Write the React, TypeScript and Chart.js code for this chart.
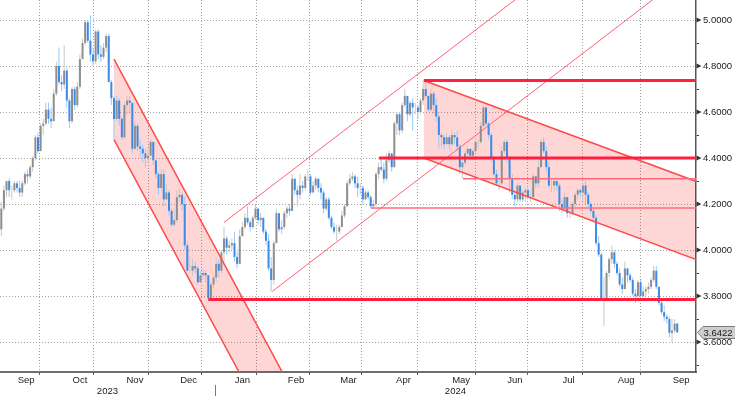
import { useEffect, useRef } from 'react';
import { Chart, registerables } from 'chart.js';

Chart.register(...registerables);

// ---------- axis categories ----------
const monthLabels = ['Sep', 'Oct', 'Nov', 'Dec', 'Jan', 'Feb', 'Mar', 'Apr', 'May', 'Jun', 'Jul', 'Aug', 'Sep'];
const monthTradingDays = [20, 21, 21, 20, 21, 20, 20, 22, 22, 19, 22, 22, 20];
const yearLabels = ['2023', '2024'];
const yearFirstMonth = [0, 4];
const yTickValues = [3.5, 3.6, 3.7, 3.8, 3.9, 4.0, 4.1, 4.2, 4.3, 4.4, 4.5, 4.6, 4.7, 4.8, 4.9, 5.0];
const X_MIN = -0.5;
const X_MAX = 265.15;
const Y_MIN = 3.4696;
const Y_MAX = 5.087;

// ---------- daily bars (one line per month) ----------
const opens = [
  4.09, 4.18, 4.26, 4.30, 4.26, 4.26, 4.29, 4.27, 4.25, 4.29, 4.33, 4.32, 4.36, 4.40, 4.49, 4.43, 4.54, 4.55, 4.61, 4.57,
  4.56, 4.68, 4.80, 4.73, 4.72, 4.78, 4.65, 4.56, 4.70, 4.63, 4.71, 4.83, 4.90, 4.99, 4.91, 4.85, 4.82, 4.95, 4.85, 4.84, 4.88,
  4.93, 4.73, 4.66, 4.57, 4.65, 4.57, 4.49, 4.63, 4.65, 4.64, 4.44, 4.54, 4.45, 4.44, 4.42, 4.40, 4.41, 4.47, 4.39, 4.33, 4.27,
  4.33, 4.22, 4.25, 4.17, 4.11, 4.13, 4.23, 4.24, 4.20, 4.02, 3.91, 3.91, 3.93, 3.92, 3.86, 3.89, 3.90, 3.89, 3.79, 3.85,
  3.88, 3.94, 3.91, 3.99, 4.05, 4.01, 4.02, 4.03, 3.97, 3.94, 4.06, 4.10, 4.14, 4.12, 4.10, 4.14, 4.18, 4.13, 4.14, 4.08, 4.04,
  3.92, 3.87, 4.03, 4.16, 4.09, 4.10, 4.16, 4.18, 4.17, 4.31, 4.26, 4.24, 4.28, 4.27, 4.32, 4.32, 4.25, 4.28, 4.31, 4.27,
  4.25, 4.18, 4.22, 4.14, 4.10, 4.08, 4.08, 4.10, 4.15, 4.19, 4.29, 4.31, 4.32, 4.29, 4.27, 4.27, 4.22, 4.25, 4.23, 4.19,
  4.20, 4.33, 4.36, 4.35, 4.31, 4.39, 4.42, 4.36, 4.55, 4.59, 4.52, 4.63, 4.67, 4.59, 4.64, 4.62, 4.62, 4.60, 4.65, 4.70, 4.67, 4.61,
  4.68, 4.63, 4.58, 4.50, 4.49, 4.46, 4.49, 4.46, 4.50, 4.49, 4.45, 4.36, 4.38, 4.42, 4.44, 4.41, 4.43, 4.47, 4.47, 4.54, 4.62, 4.55,
  4.50, 4.40, 4.33, 4.29, 4.29, 4.43, 4.47, 4.40, 4.31, 4.24, 4.22, 4.28, 4.22, 4.25, 4.26, 4.23, 4.23, 4.32, 4.29,
  4.36, 4.47, 4.43, 4.36, 4.28, 4.28, 4.30, 4.28, 4.20, 4.18, 4.23, 4.16, 4.16, 4.20, 4.24, 4.26, 4.25, 4.28, 4.24, 4.20, 4.17, 4.14,
  4.03, 3.98, 3.78, 3.79, 3.90, 3.96, 3.99, 3.94, 3.90, 3.85, 3.83, 3.92, 3.89, 3.87, 3.81, 3.80, 3.86, 3.80, 3.82, 3.83, 3.84, 3.87,
  3.91, 3.84, 3.77, 3.73, 3.71, 3.70, 3.64, 3.65, 3.68,
];
const highs = [
  4.21, 4.28, 4.30, 4.31, 4.28, 4.30, 4.30, 4.30, 4.30, 4.34, 4.35, 4.37, 4.41, 4.50, 4.51, 4.55, 4.57, 4.64, 4.64, 4.62,
  4.70, 4.82, 4.88, 4.76, 4.89, 4.79, 4.66, 4.71, 4.71, 4.73, 4.85, 4.92, 5.00, 5.00, 5.02, 4.88, 4.96, 4.96, 4.89, 4.90, 4.94,
  4.94, 4.74, 4.67, 4.67, 4.66, 4.58, 4.64, 4.67, 4.67, 4.64, 4.56, 4.55, 4.48, 4.46, 4.44, 4.44, 4.48, 4.47, 4.39, 4.34, 4.35,
  4.35, 4.29, 4.26, 4.18, 4.18, 4.26, 4.27, 4.25, 4.23, 4.04, 3.97, 3.96, 3.95, 3.93, 3.91, 3.92, 3.91, 3.89, 3.86, 3.89,
  3.97, 3.96, 4.00, 4.10, 4.06, 4.04, 4.05, 4.08, 3.99, 4.09, 4.12, 4.16, 4.19, 4.13, 4.15, 4.20, 4.18, 4.16, 4.14, 4.09, 4.07,
  3.97, 4.04, 4.18, 4.16, 4.13, 4.17, 4.19, 4.20, 4.33, 4.31, 4.28, 4.33, 4.30, 4.33, 4.35, 4.33, 4.30, 4.32, 4.31, 4.29,
  4.26, 4.23, 4.23, 4.15, 4.12, 4.11, 4.11, 4.17, 4.20, 4.30, 4.33, 4.34, 4.33, 4.32, 4.29, 4.28, 4.26, 4.26, 4.24, 4.22,
  4.34, 4.38, 4.40, 4.38, 4.42, 4.43, 4.42, 4.56, 4.60, 4.60, 4.64, 4.70, 4.67, 4.65, 4.66, 4.64, 4.63, 4.66, 4.74, 4.73, 4.67, 4.70,
  4.69, 4.66, 4.59, 4.51, 4.50, 4.51, 4.50, 4.52, 4.51, 4.52, 4.46, 4.40, 4.43, 4.45, 4.44, 4.44, 4.49, 4.48, 4.56, 4.63, 4.62, 4.56,
  4.51, 4.41, 4.35, 4.31, 4.45, 4.48, 4.48, 4.41, 4.33, 4.26, 4.29, 4.28, 4.26, 4.27, 4.27, 4.26, 4.33, 4.32, 4.40,
  4.48, 4.49, 4.45, 4.38, 4.31, 4.31, 4.31, 4.29, 4.22, 4.25, 4.23, 4.19, 4.21, 4.25, 4.27, 4.27, 4.29, 4.30, 4.25, 4.21, 4.18, 4.15,
  4.06, 3.99, 3.88, 3.91, 3.97, 4.02, 4.00, 3.95, 3.92, 3.88, 3.95, 3.92, 3.90, 3.88, 3.83, 3.87, 3.87, 3.84, 3.84, 3.86, 3.88, 3.93,
  3.93, 3.84, 3.78, 3.76, 3.72, 3.71, 3.70, 3.70, 3.68,
];
const lows = [
  4.06, 4.17, 4.23, 4.23, 4.22, 4.25, 4.25, 4.23, 4.23, 4.28, 4.29, 4.31, 4.34, 4.39, 4.42, 4.43, 4.50, 4.54, 4.55, 4.53,
  4.56, 4.67, 4.72, 4.69, 4.70, 4.62, 4.53, 4.55, 4.61, 4.62, 4.70, 4.83, 4.89, 4.90, 4.82, 4.80, 4.81, 4.83, 4.82, 4.83, 4.86,
  4.73, 4.63, 4.48, 4.56, 4.54, 4.48, 4.48, 4.59, 4.60, 4.42, 4.44, 4.43, 4.40, 4.38, 4.36, 4.38, 4.41, 4.37, 4.31, 4.24, 4.26,
  4.19, 4.22, 4.15, 4.10, 4.10, 4.12, 4.21, 4.17, 4.00, 3.91, 3.90, 3.89, 3.90, 3.85, 3.86, 3.87, 3.86, 3.78, 3.79, 3.83,
  3.86, 3.88, 3.90, 3.95, 3.98, 3.99, 4.00, 3.95, 3.92, 3.94, 4.06, 4.09, 4.11, 4.08, 4.09, 4.13, 4.11, 4.10, 4.07, 4.02, 3.91,
  3.82, 3.85, 4.03, 4.08, 4.07, 4.09, 4.14, 4.15, 4.17, 4.24, 4.19, 4.22, 4.25, 4.26, 4.30, 4.24, 4.25, 4.26, 4.25, 4.22,
  4.16, 4.17, 4.13, 4.09, 4.07, 4.04, 4.07, 4.10, 4.14, 4.19, 4.28, 4.30, 4.27, 4.23, 4.24, 4.20, 4.22, 4.22, 4.18, 4.18,
  4.19, 4.31, 4.34, 4.29, 4.30, 4.38, 4.34, 4.36, 4.50, 4.50, 4.51, 4.62, 4.56, 4.58, 4.52, 4.59, 4.57, 4.59, 4.63, 4.66, 4.60, 4.60,
  4.59, 4.56, 4.44, 4.45, 4.44, 4.46, 4.44, 4.45, 4.46, 4.43, 4.33, 4.31, 4.37, 4.41, 4.39, 4.39, 4.42, 4.44, 4.46, 4.53, 4.54, 4.48,
  4.38, 4.32, 4.28, 4.26, 4.28, 4.42, 4.38, 4.25, 4.22, 4.19, 4.21, 4.21, 4.21, 4.21, 4.22, 4.21, 4.23, 4.27, 4.27,
  4.36, 4.42, 4.34, 4.27, 4.25, 4.26, 4.26, 4.17, 4.16, 4.17, 4.14, 4.14, 4.15, 4.19, 4.22, 4.23, 4.23, 4.20, 4.18, 4.16, 4.12, 4.02,
  3.97, 3.79, 3.67, 3.78, 3.88, 3.94, 3.92, 3.89, 3.84, 3.81, 3.83, 3.86, 3.86, 3.80, 3.77, 3.79, 3.79, 3.79, 3.80, 3.81, 3.83, 3.86,
  3.83, 3.76, 3.72, 3.69, 3.68, 3.62, 3.60, 3.64, 3.64,
];
const closes = [
  4.18, 4.26, 4.30, 4.26, 4.26, 4.29, 4.27, 4.25, 4.29, 4.33, 4.32, 4.36, 4.40, 4.49, 4.43, 4.54, 4.55, 4.61, 4.57, 4.56,
  4.68, 4.80, 4.73, 4.72, 4.78, 4.65, 4.56, 4.70, 4.63, 4.71, 4.83, 4.90, 4.99, 4.91, 4.85, 4.82, 4.95, 4.85, 4.84, 4.88, 4.93,
  4.73, 4.66, 4.57, 4.65, 4.57, 4.49, 4.63, 4.65, 4.64, 4.44, 4.54, 4.45, 4.44, 4.42, 4.40, 4.41, 4.47, 4.39, 4.33, 4.27, 4.33,
  4.22, 4.25, 4.17, 4.11, 4.13, 4.23, 4.24, 4.20, 4.02, 3.91, 3.91, 3.93, 3.92, 3.86, 3.89, 3.90, 3.89, 3.79, 3.85, 3.88,
  3.94, 3.91, 3.99, 4.05, 4.01, 4.02, 4.03, 3.97, 3.94, 4.06, 4.10, 4.14, 4.12, 4.10, 4.14, 4.18, 4.13, 4.14, 4.08, 4.04, 3.92,
  3.87, 4.03, 4.16, 4.09, 4.10, 4.16, 4.18, 4.17, 4.31, 4.26, 4.24, 4.28, 4.27, 4.32, 4.32, 4.25, 4.28, 4.31, 4.27, 4.25,
  4.18, 4.22, 4.14, 4.10, 4.08, 4.08, 4.10, 4.15, 4.19, 4.29, 4.31, 4.32, 4.29, 4.27, 4.27, 4.22, 4.25, 4.23, 4.19, 4.20,
  4.33, 4.36, 4.35, 4.31, 4.39, 4.42, 4.36, 4.55, 4.59, 4.52, 4.63, 4.67, 4.59, 4.64, 4.62, 4.62, 4.60, 4.65, 4.70, 4.67, 4.61, 4.68,
  4.63, 4.58, 4.50, 4.49, 4.46, 4.49, 4.46, 4.50, 4.49, 4.45, 4.36, 4.38, 4.42, 4.44, 4.41, 4.43, 4.47, 4.47, 4.54, 4.62, 4.55, 4.50,
  4.40, 4.33, 4.29, 4.29, 4.43, 4.47, 4.40, 4.31, 4.24, 4.22, 4.28, 4.22, 4.25, 4.26, 4.23, 4.23, 4.32, 4.29, 4.36,
  4.47, 4.43, 4.36, 4.28, 4.28, 4.30, 4.28, 4.20, 4.18, 4.23, 4.16, 4.16, 4.20, 4.24, 4.26, 4.25, 4.28, 4.24, 4.20, 4.17, 4.14, 4.03,
  3.98, 3.79, 3.79, 3.90, 3.96, 3.99, 3.94, 3.90, 3.85, 3.83, 3.92, 3.89, 3.87, 3.81, 3.80, 3.86, 3.80, 3.82, 3.83, 3.84, 3.87, 3.91,
  3.84, 3.77, 3.73, 3.71, 3.70, 3.64, 3.65, 3.68, 3.6422,
];
const lastValue = 3.6422;

// ---------- drawn studies: [bar index, yield] ----------
const novChannelUpper = [[43, 4.83], [110.5, 3.40]];
const novChannelLower = [[43, 4.48], [94, 3.40]];
const riseChannelUpper = [[85, 4.12], [197.5, 5.10]];
const riseChannelLower = [[103.4, 3.82], [250, 5.10]];
const aprChannelUpper = [[161.3, 4.737], [266, 4.295]];
const aprChannelLower = [[161.3, 4.40], [266, 3.955]];
const levelDecLow = [[79, 3.785], [266, 3.785]];
const levelAprTop = [[161.3, 4.737], [266, 4.737]];
const levelAprBase = [[144.2, 4.40], [266, 4.40]];
const levelMayLow = [[176.2, 4.31], [266, 4.31]];
const levelMarLow = [[141.1, 4.183], [266, 4.183]];

// ---------- styles ----------
const FONT = "'Liberation Sans', Arial, sans-serif";
const GRID = '#a3a3a3';
const UP_BODY = '#8e8e8e';
const UP_WICK = '#c8c8c8';
const DOWN_BODY = '#3a8ae6';
const DOWN_WICK = '#9cc8f4';
const RED_THICK = '#ff1f3f';
const RED_CHANNEL = '#ff4a4a';
const RED_THIN = '#ff5f78';
const RED_LEVEL = '#ff6b7b';
const FILL = 'rgba(255, 0, 0, 0.16)';

const toPts = (arr: number[][]) => arr.map(([x, y]) => ({ x, y }));

export default function App() {
  const ref = useRef<HTMLCanvasElement>(null);

  useEffect(() => {
    document.body.style.margin = '0';
    const canvas = ref.current;
    if (!canvas) return;

    const starts: number[] = [];
    let acc = 0;
    for (const n of monthTradingDays) {
      starts.push(acc);
      acc += n;
    }
    const boundaries = starts.map((s) => s - 0.5);
    const monthCenters = starts.map((s, k) => s + monthTradingDays[k] / 2 - 0.5);
    const yearCenters = yearFirstMonth.map((m, k) => {
      const a = boundaries[m];
      const b = k + 1 < yearFirstMonth.length ? boundaries[yearFirstMonth[k + 1]] : X_MAX;
      return (a + b) / 2;
    });
    type XT = { value: number; kind: string; label: string | string[] };
    const xTicks: XT[] = [
      ...boundaries.map((v) => ({ value: v, kind: 'b', label: '' })),
      ...monthCenters.map((v, k) => ({ value: v, kind: 'm', label: monthLabels[k] })),
      ...yearCenters.map((v, k) => ({ value: v, kind: 'y', label: ['', yearLabels[k]] })),
    ].sort((a, b) => a.value - b.value);

    const isMajor = (v: number) => Math.round(v * 10) % 2 === 0;
    const isUp = (i: number) => closes[i] >= opens[i];

    const bodies = opens.map((o, i) => ({ x: i, y: [o, closes[i]] }));
    const wicks = lows.map((l, i) => ({ x: i, y: [l, highs[i]] }));

    const lineDs = (pts: number[][], color: string, width: number) => ({
      type: 'line' as const,
      data: toPts(pts),
      borderColor: color,
      borderWidth: width,
      pointRadius: 0,
      tension: 0,
      fill: false,
      order: 0,
      clip: 0,
    });
    const fillDs = (a: number[][], b: number[][]) => ({
      type: 'line' as const,
      data: toPts([a[0], a[1], b[1], b[0]]),
      borderWidth: 0,
      borderColor: 'transparent',
      backgroundColor: FILL,
      pointRadius: 0,
      tension: 0,
      fill: 'shape',
      order: 3,
    });

    const extras = {
      id: 'extras',
      afterDraw(chart: any) {
        const { ctx, chartArea } = chart;
        const x = chart.scales.x;
        const y = chart.scales.y;
        ctx.save();
        // major tick arrows on the value axis
        ctx.fillStyle = '#333';
        for (const v of yTickValues) {
          if (!isMajor(v)) continue;
          const py = y.getPixelForValue(v);
          ctx.beginPath();
          ctx.moveTo(chartArea.right + 0.5, py - 2.5);
          ctx.lineTo(chartArea.right + 5.5, py);
          ctx.lineTo(chartArea.right + 0.5, py + 2.5);
          ctx.closePath();
          ctx.fill();
        }
        // year separator
        const sx = Math.round(x.getPixelForValue(boundaries[yearFirstMonth[1]])) + 0.5;
        ctx.strokeStyle = '#777';
        ctx.lineWidth = 1;
        ctx.beginPath();
        ctx.moveTo(sx, chartArea.bottom + 13);
        ctx.lineTo(sx, chartArea.bottom + 24);
        ctx.stroke();
        // last value tag
        const ly = Math.round(y.getPixelForValue(lastValue)) + 0.5;
        const lx = chartArea.right + 1.5;
        ctx.beginPath();
        ctx.moveTo(lx, ly);
        ctx.lineTo(lx + 5.5, ly - 6);
        ctx.lineTo(chart.width + 2, ly - 6);
        ctx.lineTo(chart.width + 2, ly + 6);
        ctx.lineTo(lx + 5.5, ly + 6);
        ctx.closePath();
        ctx.fillStyle = '#cdcdcd';
        ctx.fill();
        ctx.strokeStyle = '#7c7c7c';
        ctx.stroke();
        ctx.fillStyle = '#1a1a1a';
        ctx.font = `9.5px ${FONT}`;
        ctx.textBaseline = 'middle';
        ctx.textAlign = 'left';
        ctx.fillText(lastValue.toFixed(4), lx + 6, ly + 0.5);
        ctx.restore();
      },
    };

    const chart = new Chart(canvas, {
      type: 'bar',
      data: {
        datasets: [
          lineDs(levelDecLow, RED_THICK, 3),
          lineDs(levelAprTop, RED_THICK, 3),
          lineDs(levelAprBase, RED_THICK, 3),
          lineDs(levelMayLow, RED_LEVEL, 1.5),
          lineDs(levelMarLow, RED_LEVEL, 1.5),
          lineDs(novChannelUpper, RED_CHANNEL, 1.5),
          lineDs(novChannelLower, RED_CHANNEL, 1.5),
          lineDs(aprChannelUpper, RED_CHANNEL, 1.5),
          lineDs(aprChannelLower, RED_CHANNEL, 1.5),
          lineDs(riseChannelUpper, RED_THIN, 1),
          lineDs(riseChannelLower, RED_THIN, 1),
          {
            type: 'bar',
            data: bodies,
            backgroundColor: bodies.map((_, i) => (isUp(i) ? UP_BODY : DOWN_BODY)),
            barThickness: 2,
            grouped: false,
            borderWidth: 0,
            inflateAmount: 0,
            order: 1,
          },
          {
            type: 'bar',
            data: wicks,
            backgroundColor: wicks.map((_, i) => (isUp(i) ? UP_WICK : DOWN_WICK)),
            barThickness: 1,
            grouped: false,
            borderWidth: 0,
            inflateAmount: 0,
            order: 2,
          },
          fillDs(novChannelUpper, novChannelLower),
          fillDs(aprChannelUpper, aprChannelLower),
        ] as any,
      },
      options: {
        responsive: false,
        devicePixelRatio: 1,
        animation: false,
        events: [],
        layout: { padding: 0 },
        plugins: { legend: { display: false }, tooltip: { enabled: false } },
        scales: {
          x: {
            type: 'linear',
            position: 'bottom',
            min: X_MIN,
            max: X_MAX,
            offset: false,
            bounds: 'data',
            afterBuildTicks: (s: any) => {
              s.ticks = xTicks.map((t) => ({ value: t.value }));
            },
            afterFit: (s: any) => {
              s.height = 25;
              s.paddingLeft = 0;
              s.paddingRight = 0;
            },
            ticks: {
              autoSkip: false,
              maxRotation: 0,
              minRotation: 0,
              padding: 0,
              color: '#222',
              font: { family: FONT, size: 9.5, lineHeight: '11px' },
              callback: (_v: any, i: number) => xTicks[i].label,
            },
            grid: {
              color: (c: any) => (xTicks[c.index] && xTicks[c.index].kind === 'b' ? GRID : 'transparent'),
              tickColor: (c: any) => (xTicks[c.index] && xTicks[c.index].kind === 'b' ? '#555' : 'transparent'),
              tickLength: 3,
              tickWidth: 1,
              tickBorderDash: [],
              lineWidth: 1,
            },
            border: { display: true, color: '#6e6e6e', width: 2, dash: [1, 2] },
          },
          y: {
            type: 'linear',
            position: 'right',
            min: Y_MIN,
            max: Y_MAX,
            bounds: 'data',
            afterBuildTicks: (s: any) => {
              s.ticks = yTickValues.map((v) => ({ value: v }));
            },
            afterFit: (s: any) => {
              s.width = 39;
              s.paddingTop = 0;
              s.paddingBottom = 0;
            },
            ticks: {
              padding: 4,
              color: '#222',
              font: { family: FONT, size: 9.5 },
              callback: (v: any) => (isMajor(Number(v)) ? Number(v).toFixed(4) : ''),
            },
            grid: {
              color: (c: any) => (c.tick && isMajor(c.tick.value) ? GRID : 'transparent'),
              tickColor: (c: any) => (c.tick && isMajor(c.tick.value) ? 'transparent' : '#444'),
              tickLength: 3,
              tickWidth: 1,
              tickBorderDash: [],
              lineWidth: 1,
            },
            border: { display: true, color: '#555', width: 1.5, dash: [1, 2] },
          },
        },
      } as any,
      plugins: [extras],
    });

    return () => chart.destroy();
  }, []);

  return <canvas ref={ref} width={735} height={397} style={{ display: 'block' }} />;
}
